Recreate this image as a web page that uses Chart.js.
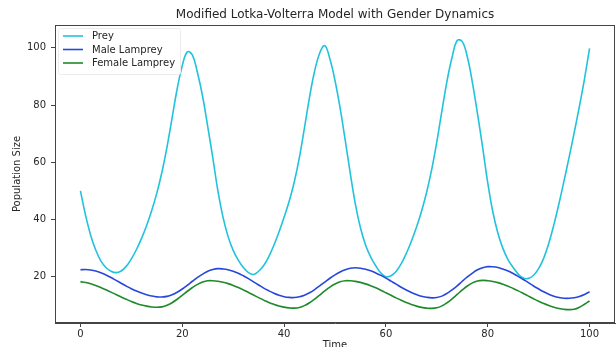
<!DOCTYPE html>
<html>
<head>
<meta charset="utf-8">
<title>Modified Lotka-Volterra Model with Gender Dynamics</title>
<script src="https://cdn.jsdelivr.net/npm/chart.js@4.4.1/dist/chart.umd.min.js"></script>
<style>
  html, body { margin: 0; padding: 0; background: #fff; }
  #wrap { width: 616px; height: 347px; }
</style>
</head>
<body>
<div id="wrap"><canvas id="chart"></canvas></div>
<script>
// values, one per time unit
const time = [
  0, 1, 2, 3, 4, 5, 6, 7, 8, 9, 10, 11, 12, 13, 14, 15, 16, 17, 18, 19, 20,
  21, 22, 23, 24, 25, 26, 27, 28, 29, 30, 31, 32, 33, 34, 35, 36, 37, 38, 39, 40,
  41, 42, 43, 44, 45, 46, 47, 48, 49, 50, 51, 52, 53, 54, 55, 56, 57, 58, 59, 60,
  61, 62, 63, 64, 65, 66, 67, 68, 69, 70, 71, 72, 73, 74, 75, 76, 77, 78, 79, 80,
  81, 82, 83, 84, 85, 86, 87, 88, 89, 90, 91, 92, 93, 94, 95, 96, 97, 98, 99, 100
];

const prey = [
  50.0, 41.5, 34.5, 29.3, 25.5, 23.2, 21.9, 21.4, 22.0, 23.6,
  26.2, 29.5, 33.4, 37.9, 43.1, 49.2, 56.5, 65.3, 75.5, 85.7,
  93.8, 98.6, 97.5, 91.2, 83.0, 72.5, 61.5, 50.0, 40.8, 34.0,
  29.2, 25.8, 23.2, 21.4, 20.75, 21.9, 23.9, 27.0, 31.0, 35.6,
  40.8, 46.4, 53.1, 61.6, 72.0, 82.8, 91.9, 98.2, 100.8, 96.1,
  88.6, 79.0, 67.8, 56.1, 45.4, 37.1, 31.1, 26.9, 23.8, 21.3,
  20.0, 20.3, 21.8, 24.5, 28.1, 32.4, 37.3, 42.9, 49.5, 57.5,
  67.1, 78.0, 88.4, 96.7, 102.6, 102.2, 96.8, 87.8, 76.9, 65.2,
  52.9, 42.7, 35.2, 29.8, 25.9, 23.2, 20.9, 19.5, 19.4, 20.5,
  22.8, 26.5, 31.7, 38.2, 45.6, 53.6, 61.9, 70.5, 79.5, 89.1,
  99.8
];

const maleLamprey = [
  22.4, 22.5, 22.35, 22.0, 21.4, 20.6, 19.7, 18.7, 17.7, 16.7,
  15.8, 15.0, 14.3, 13.7, 13.25, 12.95, 12.9, 13.1, 13.65, 14.55,
  15.7, 17.0, 18.4, 19.75, 20.9, 21.9, 22.5, 22.8, 22.7, 22.4,
  21.9, 21.2, 20.3, 19.3, 18.2, 17.1, 16.0, 15.05, 14.2, 13.5,
  13.0, 12.75, 12.7, 12.95, 13.5, 14.4, 15.5, 16.8, 18.1, 19.45,
  20.65, 21.65, 22.4, 22.95, 23.1, 22.95, 22.6, 22.05, 21.3, 20.45,
  19.5, 18.45, 17.4, 16.3, 15.35, 14.5, 13.75, 13.15, 12.8, 12.6,
  12.7, 13.2, 14.15, 15.4, 16.8, 18.4, 19.9, 21.25, 22.4, 23.1,
  23.5, 23.45, 23.2, 22.65, 22.0, 21.1, 20.1, 19.0, 17.9, 16.75,
  15.7, 14.7, 13.85, 13.15, 12.7, 12.45, 12.45, 12.65, 13.1, 13.8,
  14.7
];

const femaleLamprey = [
  18.27, 17.95, 17.5, 16.9, 16.2, 15.4, 14.6, 13.75, 12.9, 12.1,
  11.3, 10.65, 10.1, 9.7, 9.42, 9.3, 9.44, 9.98, 10.9, 12.1,
  13.45, 14.9, 16.2, 17.3, 18.1, 18.55, 18.58, 18.4, 18.07, 17.57,
  16.94, 16.2, 15.37, 14.48, 13.57, 12.67, 11.8, 11.0, 10.33, 9.76,
  9.35, 9.09, 9.0, 9.22, 9.87, 10.87, 12.15, 13.58, 15.03, 16.37,
  17.46, 18.22, 18.58, 18.56, 18.36, 18.0, 17.48, 16.84, 16.1, 15.26,
  14.38, 13.48, 12.58, 11.73, 10.95, 10.26, 9.7, 9.27, 9.0, 8.9,
  9.1, 9.78, 10.87, 12.25, 13.8, 15.35, 16.73, 17.82, 18.5, 18.7,
  18.6, 18.34, 17.92, 17.36, 16.68, 15.89, 15.04, 14.13, 13.2, 12.29,
  11.42, 10.63, 9.92, 9.33, 8.88, 8.59, 8.46, 8.6, 9.3, 10.35,
  11.5
];

const xTicks = [0, 20, 40, 60, 80, 100];
const yTicks = [20, 40, 60, 80, 100];

const FONT = '"DejaVu Sans", sans-serif';
const INK = '#262626';

function points(values) {
  return time.map((t, i) => ({ x: t, y: values[i] }));
}

function lineSet(label, values, color, order) {
  return {
    label,
    data: points(values),
    borderColor: color,
    backgroundColor: color,
    borderWidth: 1.6,
    pointRadius: 0,
    tension: 0.4,
    fill: false,
    order,
  };
}

// box round the plot area, like matplotlib's spines
const frame = {
  id: 'frame',
  afterDraw(chart) {
    const { ctx, chartArea: a } = chart;
    ctx.save();
    ctx.strokeStyle = '#444';
    ctx.lineWidth = 1;
    ctx.strokeRect(a.left + 0.5, a.top + 0.5, a.right - a.left - 1, a.bottom - a.top - 1);
    ctx.restore();
  }
};

// legend inside the upper left corner
const insideLegend = {
  id: 'insideLegend',
  afterDraw(chart) {
    const { ctx, chartArea: a } = chart;
    ctx.save();
    ctx.fillStyle = 'rgba(255,255,255,0.8)';
    ctx.strokeStyle = '#ececec';
    ctx.lineWidth = 1;
    ctx.beginPath();
    ctx.roundRect(a.left + 3.5, a.top + 3.5, 122, 46, 2);
    ctx.fill();
    ctx.stroke();
    ctx.font = '10px ' + FONT;
    ctx.textBaseline = 'middle';
    chart.data.datasets.forEach((ds, i) => {
      const y = a.top + 11 + i * 13.5;
      ctx.strokeStyle = ds.borderColor;
      ctx.lineWidth = 1.6;
      ctx.beginPath();
      ctx.moveTo(a.left + 8, y);
      ctx.lineTo(a.left + 28, y);
      ctx.stroke();
      ctx.fillStyle = INK;
      ctx.fillText(ds.label, a.left + 37, y + 0.5);
    });
    ctx.restore();
  }
};

new Chart(document.getElementById('chart'), {
  type: 'line',
  data: {
    datasets: [
      lineSet('Prey', prey, '#21c3dc', 3),
      lineSet('Male Lamprey', maleLamprey, '#2747dc', 2),
      lineSet('Female Lamprey', femaleLamprey, '#1f8a2a', 1),
    ],
  },
  options: {
    responsive: true,
    maintainAspectRatio: false,
    animation: false,
    devicePixelRatio: 1,
    layout: { padding: { left: 0, right: 1, top: 0, bottom: 0 } },
    plugins: {
      legend: { display: false },
      tooltip: { enabled: false },
      title: {
        display: true,
        fullSize: false,
        text: 'Modified Lotka-Volterra Model with Gender Dynamics',
        color: INK,
        font: { family: FONT, size: 12, weight: 'normal', lineHeight: 1.2 },
        padding: { top: 8, bottom: 2.6 },
      },
    },
    scales: {
      x: {
        type: 'linear',
        min: -5,
        max: 105,
        afterBuildTicks: (scale) => { scale.ticks = xTicks.map(v => ({ value: v })); },
        afterFit: (scale) => { scale.height = 24; },
        ticks: { color: INK, font: { family: FONT, size: 10 }, padding: 1, maxRotation: 0 },
        grid: { drawOnChartArea: false, drawTicks: true, tickLength: 4, color: '#444' },
        border: { display: true, color: '#444' },
        title: {
          display: true,
          text: 'Time',
          color: INK,
          font: { family: FONT, size: 10, lineHeight: 1.2 },
          padding: { top: 0, bottom: -4 },
        },
      },
      y: {
        type: 'linear',
        min: 3.8,
        max: 108,
        afterBuildTicks: (scale) => { scale.ticks = yTicks.map(v => ({ value: v })); },
        afterFit: (scale) => { scale.width = 55; },
        ticks: { color: INK, font: { family: FONT, size: 10 }, padding: 5 },
        grid: { drawOnChartArea: false, drawTicks: true, tickLength: 4, color: '#444' },
        border: { display: true, color: '#444' },
        title: {
          display: true,
          text: 'Population Size',
          color: INK,
          font: { family: FONT, size: 10, lineHeight: 1.2 },
          padding: { top: 11, bottom: 0 },
        },
      },
    },
  },
  plugins: [frame, insideLegend],
});
</script>
</body>
</html>
